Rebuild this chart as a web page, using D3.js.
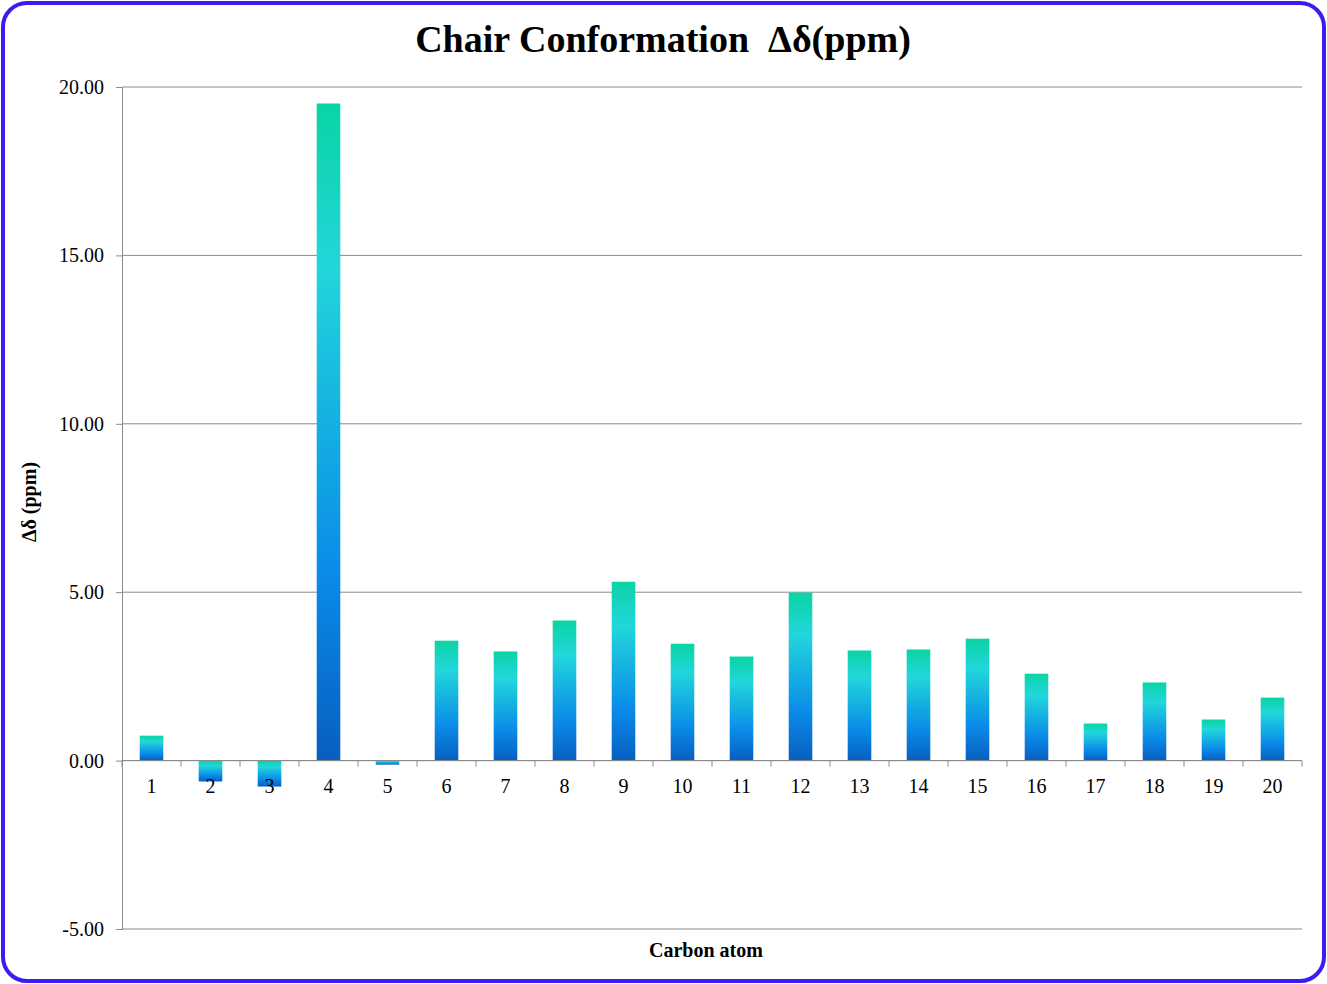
<!DOCTYPE html>
<html><head><meta charset="utf-8">
<script src="https://cdn.jsdelivr.net/npm/d3@7"></script>
<style>body{margin:0;background:#fff}svg{display:block}text{white-space:pre}</style>
</head><body>
<script>
const categories = ["1","2","3","4","5","6","7","8","9","10","11","12","13","14","15","16","17","18","19","20"];
const values = [0.74,-0.62,-0.77,19.51,-0.12,3.56,3.24,4.16,5.31,3.47,3.09,4.99,3.27,3.30,3.62,2.58,1.10,2.32,1.22,1.87];
const yTicks = [-5,0,5,10,15,20];
const yTickLabels = ["-5.00","0.00","5.00","10.00","15.00","20.00"];

(function(){
const W = 1327, H = 984;
const FONT = "'Liberation Serif','Times New Roman',serif";
const svg = d3.select("body").append("svg").attr("width", W).attr("height", H);
const defs = svg.append("defs");
const grad = defs.append("linearGradient").attr("id","barGrad")
  .attr("x1",0).attr("y1",0).attr("x2",0).attr("y2",1);
[[0,"#0ad4a4"],[0.25,"#22d6dc"],[0.5,"#14aee2"],[0.72,"#0a8ae8"],[1,"#075fbf"]].forEach(([o,c])=>
  grad.append("stop").attr("offset",o).attr("stop-color",c));

svg.append("rect").attr("x",3).attr("y",3).attr("width",W-6).attr("height",H-6)
  .attr("rx",24).attr("ry",24).attr("fill","#fff").attr("stroke","#3a1ef0").attr("stroke-width",4);

const pLeft=122, pRight=1302, pTop=87, pBottom=929;
const x = d3.scaleBand().domain(categories).range([pLeft,pRight]).paddingInner(0.6).paddingOuter(0.3);
const y = d3.scaleLinear().domain([-5,20]).range([pBottom,pTop]);

svg.append("g").selectAll("line").data(yTicks).join("line")
  .attr("x1",pLeft).attr("x2",pRight).attr("y1",d=>y(d)).attr("y2",d=>y(d))
  .attr("stroke","#8a8a8a").attr("stroke-width",1);

const yAxis = d3.axisLeft(y).tickValues(yTicks).tickFormat((d,i)=>yTickLabels[i]).tickSize(6).tickPadding(12);
const ya = svg.append("g").attr("transform",`translate(${pLeft},0)`).call(yAxis);
ya.select(".domain").attr("stroke","#8a8a8a");
ya.selectAll(".tick line").attr("stroke","#8a8a8a");
ya.selectAll("text").attr("font-family",FONT).attr("font-size",20).attr("fill","#000");

svg.append("g").selectAll("rect").data(categories.map((c,i)=>({c,v:values[i]}))).join("rect")
  .attr("x",d=>x(d.c)).attr("width",x.bandwidth())
  .attr("y",d=>y(Math.max(0,d.v))).attr("height",d=>Math.abs(y(d.v)-y(0)))
  .attr("fill","url(#barGrad)");

const step = x.step();
svg.append("line").attr("x1",pLeft).attr("x2",pRight).attr("y1",y(0)).attr("y2",y(0)).attr("stroke","#8a8a8a");
svg.append("g").selectAll("line").data(d3.range(categories.length+1)).join("line")
  .attr("x1",i=>pLeft+i*step).attr("x2",i=>pLeft+i*step).attr("y1",y(0)).attr("y2",y(0)+6)
  .attr("stroke","#8a8a8a");
svg.append("g").selectAll("text").data(categories).join("text")
  .attr("x",d=>x(d)+x.bandwidth()/2).attr("y",y(0)+32).attr("text-anchor","middle")
  .attr("font-family",FONT).attr("font-size",20).text(d=>d);

svg.append("text").attr("x",663).attr("y",52).attr("text-anchor","middle")
  .attr("font-family",FONT).attr("font-weight","bold").attr("font-size",38)
  .text("Chair Conformation  Δδ(ppm)");
svg.append("text").attr("x",706).attr("y",957).attr("text-anchor","middle")
  .attr("font-family",FONT).attr("font-weight","bold").attr("font-size",20)
  .text("Carbon atom");
svg.append("text").attr("transform","translate(36,502) rotate(-90)").attr("text-anchor","middle")
  .attr("font-family",FONT).attr("font-weight","bold").attr("font-size",20)
  .text("Δδ (ppm)");
})();
</script>
</body></html>
